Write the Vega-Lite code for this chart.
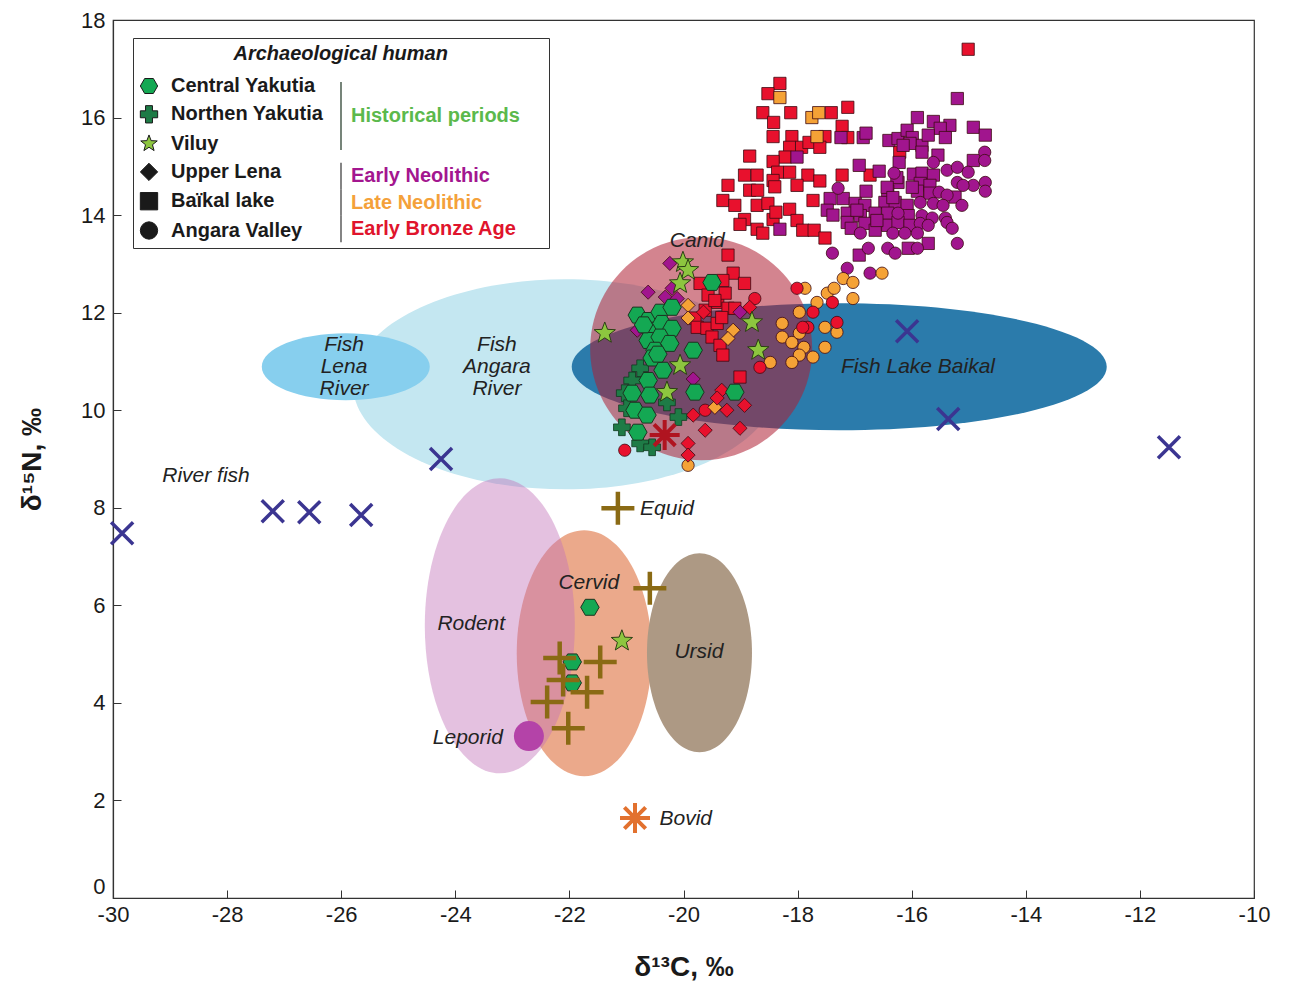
{
  "$schema": "https://vega.github.io/schema/vega-lite/v6.json",
  "width": 1141,
  "height": 878,
  "autosize": {"type": "none"},
  "padding": {"left": 113, "top": 20, "right": 38, "bottom": 100},
  "background": "white",
  "config": {
    "view": {"stroke": "#333", "strokeWidth": 1.2},
    "axis": {"grid": false, "domainColor": "#333", "domainWidth": 1.2, "tickColor": "#333", "tickSize": -8, "tickWidth": 1, "labelFont": "Liberation Sans", "labelFontSize": 22, "labelColor": "#1a1a1a", "titleFont": "Liberation Sans", "titleFontSize": 28, "titleFontWeight": "bold", "titleColor": "#1a1a1a", "labelFlush": false, "labelOverlap": false},
    "legend": {"labelFont": "Liberation Sans", "labelFontSize": 20, "labelFontWeight": "bold", "labelColor": "#1a1a1a", "titleFont": "Liberation Sans", "labelLimit": 400, "titleLimit": 700}
  },
  "datasets": {
    "ellipses": [
      {"name": "Fish Angara River", "C": -22.08, "N": 10.53},
      {"name": "Fish Lena River", "C": -25.92, "N": 10.89},
      {"name": "Fish Lake Baikal", "C": -17.27, "N": 10.89},
      {"name": "Canid", "C": -19.69, "N": 11.26},
      {"name": "Cervid", "C": -21.74, "N": 5.02},
      {"name": "Rodent", "C": -23.22, "N": 5.58},
      {"name": "Ursid", "C": -19.72, "N": 5.03}
    ],
    "labels": [
      {"label": "River fish", "C": -28.37, "N": 8.65},
      {"label": "Fish\nLena\nRiver", "C": -25.95, "N": 11.33},
      {"label": "Fish\nAngara\nRiver", "C": -23.27, "N": 11.33},
      {"label": "Canid", "C": -19.76, "N": 13.46},
      {"label": "Fish Lake Baikal", "C": -15.89, "N": 10.88},
      {"label": "Equid", "C": -20.29, "N": 7.97},
      {"label": "Cervid", "C": -21.66, "N": 6.45},
      {"label": "Rodent", "C": -23.72, "N": 5.61},
      {"label": "Ursid", "C": -19.73, "N": 5.04},
      {"label": "Leporid", "C": -23.78, "N": 3.28},
      {"label": "Bovid", "C": -19.96, "N": 1.62}
    ],
    "fauna": [
      {"taxon": "River fish", "C": -29.84, "N": 7.48},
      {"taxon": "River fish", "C": -27.2, "N": 7.93},
      {"taxon": "River fish", "C": -26.56, "N": 7.91},
      {"taxon": "River fish", "C": -25.65, "N": 7.85},
      {"taxon": "River fish", "C": -24.25, "N": 9.0},
      {"taxon": "River fish", "C": -16.08, "N": 11.62},
      {"taxon": "River fish", "C": -15.36, "N": 9.82},
      {"taxon": "River fish", "C": -11.49, "N": 9.24},
      {"taxon": "Equid", "C": -21.15, "N": 7.99},
      {"taxon": "Equid", "C": -20.59, "N": 6.35},
      {"taxon": "Equid", "C": -22.17, "N": 4.92},
      {"taxon": "Equid", "C": -21.46, "N": 4.84},
      {"taxon": "Equid", "C": -22.11, "N": 4.47},
      {"taxon": "Equid", "C": -21.69, "N": 4.22},
      {"taxon": "Equid", "C": -22.39, "N": 4.02},
      {"taxon": "Equid", "C": -22.02, "N": 3.48},
      {"taxon": "Canid", "C": -20.33, "N": 9.49},
      {"taxon": "Bovid", "C": -20.85, "N": 1.64},
      {"taxon": "Leporid", "C": -22.71, "N": 3.32}
    ],
    "human": [
      {"region": "Baïkal lake", "period": "Early Bronze Age", "C": -18.31, "N": 16.7},
      {"region": "Baïkal lake", "period": "Early Bronze Age", "C": -18.52, "N": 16.49},
      {"region": "Baïkal lake", "period": "Early Bronze Age", "C": -18.61, "N": 16.1},
      {"region": "Baïkal lake", "period": "Early Bronze Age", "C": -18.12, "N": 16.1},
      {"region": "Baïkal lake", "period": "Early Bronze Age", "C": -18.42, "N": 15.9},
      {"region": "Baïkal lake", "period": "Early Bronze Age", "C": -17.41, "N": 16.1},
      {"region": "Baïkal lake", "period": "Early Bronze Age", "C": -17.12, "N": 16.21},
      {"region": "Baïkal lake", "period": "Early Bronze Age", "C": -17.22, "N": 15.82},
      {"region": "Baïkal lake", "period": "Early Bronze Age", "C": -17.12, "N": 15.59},
      {"region": "Baïkal lake", "period": "Early Bronze Age", "C": -18.43, "N": 15.61},
      {"region": "Baïkal lake", "period": "Early Bronze Age", "C": -18.1, "N": 15.61},
      {"region": "Baïkal lake", "period": "Early Bronze Age", "C": -17.52, "N": 15.61},
      {"region": "Baïkal lake", "period": "Early Bronze Age", "C": -18.14, "N": 15.39},
      {"region": "Baïkal lake", "period": "Early Bronze Age", "C": -17.93, "N": 15.39},
      {"region": "Baïkal lake", "period": "Early Bronze Age", "C": -17.8, "N": 15.49},
      {"region": "Baïkal lake", "period": "Early Bronze Age", "C": -17.61, "N": 15.39},
      {"region": "Baïkal lake", "period": "Early Bronze Age", "C": -18.22, "N": 15.19},
      {"region": "Baïkal lake", "period": "Early Bronze Age", "C": -18.84, "N": 15.21},
      {"region": "Baïkal lake", "period": "Early Bronze Age", "C": -18.43, "N": 15.1},
      {"region": "Baïkal lake", "period": "Early Bronze Age", "C": -18.93, "N": 14.82},
      {"region": "Baïkal lake", "period": "Early Bronze Age", "C": -18.71, "N": 14.82},
      {"region": "Baïkal lake", "period": "Early Bronze Age", "C": -18.35, "N": 14.88},
      {"region": "Baïkal lake", "period": "Early Bronze Age", "C": -18.14, "N": 14.88},
      {"region": "Baïkal lake", "period": "Early Bronze Age", "C": -17.82, "N": 14.82},
      {"region": "Baïkal lake", "period": "Early Bronze Age", "C": -17.61, "N": 14.7},
      {"region": "Baïkal lake", "period": "Early Bronze Age", "C": -17.22, "N": 14.82},
      {"region": "Baïkal lake", "period": "Early Bronze Age", "C": -18.43, "N": 14.71},
      {"region": "Baïkal lake", "period": "Early Bronze Age", "C": -18.4, "N": 14.58},
      {"region": "Baïkal lake", "period": "Early Bronze Age", "C": -19.22, "N": 14.61},
      {"region": "Baïkal lake", "period": "Early Bronze Age", "C": -18.84, "N": 14.51},
      {"region": "Baïkal lake", "period": "Early Bronze Age", "C": -18.7, "N": 14.51},
      {"region": "Baïkal lake", "period": "Early Bronze Age", "C": -18.01, "N": 14.61},
      {"region": "Baïkal lake", "period": "Early Bronze Age", "C": -17.73, "N": 14.3},
      {"region": "Baïkal lake", "period": "Early Bronze Age", "C": -19.31, "N": 14.3},
      {"region": "Baïkal lake", "period": "Early Bronze Age", "C": -19.1, "N": 14.2},
      {"region": "Baïkal lake", "period": "Early Bronze Age", "C": -18.71, "N": 14.2},
      {"region": "Baïkal lake", "period": "Early Bronze Age", "C": -18.52, "N": 14.24},
      {"region": "Baïkal lake", "period": "Early Bronze Age", "C": -18.14, "N": 14.12},
      {"region": "Baïkal lake", "period": "Early Bronze Age", "C": -18.93, "N": 13.91},
      {"region": "Baïkal lake", "period": "Early Bronze Age", "C": -19.01, "N": 13.81},
      {"region": "Baïkal lake", "period": "Early Bronze Age", "C": -18.71, "N": 13.71},
      {"region": "Baïkal lake", "period": "Early Bronze Age", "C": -18.61, "N": 13.63},
      {"region": "Baïkal lake", "period": "Early Bronze Age", "C": -18.43, "N": 13.91},
      {"region": "Baïkal lake", "period": "Early Bronze Age", "C": -18.01, "N": 13.89},
      {"region": "Baïkal lake", "period": "Early Bronze Age", "C": -17.91, "N": 13.69},
      {"region": "Baïkal lake", "period": "Early Bronze Age", "C": -17.71, "N": 13.69},
      {"region": "Baïkal lake", "period": "Early Bronze Age", "C": -17.52, "N": 13.53},
      {"region": "Baïkal lake", "period": "Early Bronze Age", "C": -18.38, "N": 14.06},
      {"region": "Baïkal lake", "period": "Early Bronze Age", "C": -16.21, "N": 15.29},
      {"region": "Baïkal lake", "period": "Early Bronze Age", "C": -16.73, "N": 14.82},
      {"region": "Baïkal lake", "period": "Early Bronze Age", "C": -15.01, "N": 17.4},
      {"region": "Baïkal lake", "period": "Early Bronze Age", "C": -19.22, "N": 13.18},
      {"region": "Baïkal lake", "period": "Early Bronze Age", "C": -19.13, "N": 12.81},
      {"region": "Baïkal lake", "period": "Early Bronze Age", "C": -18.93, "N": 12.6},
      {"region": "Baïkal lake", "period": "Early Bronze Age", "C": -19.71, "N": 12.6},
      {"region": "Baïkal lake", "period": "Early Bronze Age", "C": -19.31, "N": 12.66},
      {"region": "Baïkal lake", "period": "Early Bronze Age", "C": -19.57, "N": 12.36},
      {"region": "Baïkal lake", "period": "Early Bronze Age", "C": -19.4, "N": 12.21},
      {"region": "Baïkal lake", "period": "Early Bronze Age", "C": -19.22, "N": 12.09},
      {"region": "Baïkal lake", "period": "Early Bronze Age", "C": -19.62, "N": 12.05},
      {"region": "Baïkal lake", "period": "Early Bronze Age", "C": -19.8, "N": 11.89},
      {"region": "Baïkal lake", "period": "Early Bronze Age", "C": -19.76, "N": 11.7},
      {"region": "Baïkal lake", "period": "Early Bronze Age", "C": -19.59, "N": 11.68},
      {"region": "Baïkal lake", "period": "Early Bronze Age", "C": -19.41, "N": 11.78},
      {"region": "Baïkal lake", "period": "Early Bronze Age", "C": -19.5, "N": 11.5},
      {"region": "Baïkal lake", "period": "Early Bronze Age", "C": -19.36, "N": 11.33},
      {"region": "Baïkal lake", "period": "Early Bronze Age", "C": -19.31, "N": 11.13},
      {"region": "Baïkal lake", "period": "Early Bronze Age", "C": -19.01, "N": 10.68},
      {"region": "Baïkal lake", "period": "Early Bronze Age", "C": -19.27, "N": 12.4},
      {"region": "Baïkal lake", "period": "Early Bronze Age", "C": -19.1, "N": 12.09},
      {"region": "Baïkal lake", "period": "Early Bronze Age", "C": -19.45, "N": 12.25},
      {"region": "Baïkal lake", "period": "Early Bronze Age", "C": -19.33, "N": 11.9},
      {"region": "Baïkal lake", "period": "Late Neolithic", "C": -18.31, "N": 16.41},
      {"region": "Baïkal lake", "period": "Late Neolithic", "C": -17.75, "N": 16.0},
      {"region": "Baïkal lake", "period": "Late Neolithic", "C": -17.63, "N": 16.1},
      {"region": "Baïkal lake", "period": "Late Neolithic", "C": -17.66, "N": 15.61},
      {"region": "Baïkal lake", "period": "Early Neolithic", "C": -18.01, "N": 15.19},
      {"region": "Baïkal lake", "period": "Early Neolithic", "C": -17.24, "N": 15.59},
      {"region": "Baïkal lake", "period": "Early Neolithic", "C": -16.85, "N": 15.59},
      {"region": "Baïkal lake", "period": "Early Neolithic", "C": -16.92, "N": 15.02},
      {"region": "Baïkal lake", "period": "Early Neolithic", "C": -18.31, "N": 13.71},
      {"region": "Baïkal lake", "period": "Early Neolithic", "C": -15.2, "N": 16.39},
      {"region": "Baïkal lake", "period": "Early Neolithic", "C": -15.9, "N": 16.0},
      {"region": "Baïkal lake", "period": "Early Neolithic", "C": -15.62, "N": 15.92},
      {"region": "Baïkal lake", "period": "Early Neolithic", "C": -15.33, "N": 15.84},
      {"region": "Baïkal lake", "period": "Early Neolithic", "C": -15.5, "N": 15.78},
      {"region": "Baïkal lake", "period": "Early Neolithic", "C": -14.92, "N": 15.8},
      {"region": "Baïkal lake", "period": "Early Neolithic", "C": -14.71, "N": 15.64},
      {"region": "Baïkal lake", "period": "Early Neolithic", "C": -16.8, "N": 15.68},
      {"region": "Baïkal lake", "period": "Early Neolithic", "C": -16.4, "N": 15.53},
      {"region": "Baïkal lake", "period": "Early Neolithic", "C": -16.24, "N": 15.57},
      {"region": "Baïkal lake", "period": "Early Neolithic", "C": -16.08, "N": 15.74},
      {"region": "Baïkal lake", "period": "Early Neolithic", "C": -15.99, "N": 15.59},
      {"region": "Baïkal lake", "period": "Early Neolithic", "C": -15.82, "N": 15.43},
      {"region": "Baïkal lake", "period": "Early Neolithic", "C": -15.71, "N": 15.64},
      {"region": "Baïkal lake", "period": "Early Neolithic", "C": -15.41, "N": 15.59},
      {"region": "Baïkal lake", "period": "Early Neolithic", "C": -16.03, "N": 15.47},
      {"region": "Baïkal lake", "period": "Early Neolithic", "C": -15.82, "N": 15.29},
      {"region": "Baïkal lake", "period": "Early Neolithic", "C": -15.54, "N": 15.23},
      {"region": "Baïkal lake", "period": "Early Neolithic", "C": -14.92, "N": 15.12},
      {"region": "Baïkal lake", "period": "Early Neolithic", "C": -16.22, "N": 15.08},
      {"region": "Baïkal lake", "period": "Early Neolithic", "C": -16.57, "N": 14.9},
      {"region": "Baïkal lake", "period": "Early Neolithic", "C": -15.97, "N": 14.84},
      {"region": "Baïkal lake", "period": "Early Neolithic", "C": -15.82, "N": 14.86},
      {"region": "Baïkal lake", "period": "Early Neolithic", "C": -15.62, "N": 14.82},
      {"region": "Baïkal lake", "period": "Early Neolithic", "C": -16.24, "N": 14.67},
      {"region": "Baïkal lake", "period": "Early Neolithic", "C": -15.85, "N": 14.65},
      {"region": "Baïkal lake", "period": "Early Neolithic", "C": -15.68, "N": 14.61},
      {"region": "Baïkal lake", "period": "Early Neolithic", "C": -16.8, "N": 14.49},
      {"region": "Baïkal lake", "period": "Early Neolithic", "C": -16.42, "N": 14.49},
      {"region": "Baïkal lake", "period": "Early Neolithic", "C": -15.9, "N": 14.49},
      {"region": "Baïkal lake", "period": "Early Neolithic", "C": -15.24, "N": 14.37},
      {"region": "Baïkal lake", "period": "Early Neolithic", "C": -17.2, "N": 14.34},
      {"region": "Baïkal lake", "period": "Early Neolithic", "C": -16.99, "N": 14.24},
      {"region": "Baïkal lake", "period": "Early Neolithic", "C": -16.82, "N": 14.2},
      {"region": "Baïkal lake", "period": "Early Neolithic", "C": -16.47, "N": 14.26},
      {"region": "Baïkal lake", "period": "Early Neolithic", "C": -16.29, "N": 14.26},
      {"region": "Baïkal lake", "period": "Early Neolithic", "C": -16.08, "N": 14.2},
      {"region": "Baïkal lake", "period": "Early Neolithic", "C": -17.13, "N": 14.04},
      {"region": "Baïkal lake", "period": "Early Neolithic", "C": -16.9, "N": 13.99},
      {"region": "Baïkal lake", "period": "Early Neolithic", "C": -16.64, "N": 14.04},
      {"region": "Baïkal lake", "period": "Early Neolithic", "C": -16.42, "N": 14.04},
      {"region": "Baïkal lake", "period": "Early Neolithic", "C": -16.06, "N": 13.99},
      {"region": "Baïkal lake", "period": "Early Neolithic", "C": -17.13, "N": 13.85},
      {"region": "Baïkal lake", "period": "Early Neolithic", "C": -16.82, "N": 13.83},
      {"region": "Baïkal lake", "period": "Early Neolithic", "C": -16.64, "N": 13.69},
      {"region": "Baïkal lake", "period": "Early Neolithic", "C": -16.42, "N": 13.79},
      {"region": "Baïkal lake", "period": "Early Neolithic", "C": -16.24, "N": 13.85},
      {"region": "Baïkal lake", "period": "Early Neolithic", "C": -16.03, "N": 13.79},
      {"region": "Baïkal lake", "period": "Early Neolithic", "C": -15.71, "N": 13.42},
      {"region": "Baïkal lake", "period": "Early Neolithic", "C": -16.06, "N": 13.32},
      {"region": "Baïkal lake", "period": "Early Neolithic", "C": -16.92, "N": 13.18},
      {"region": "Baïkal lake", "period": "Early Neolithic", "C": -17.43, "N": 14.34},
      {"region": "Baïkal lake", "period": "Early Neolithic", "C": -17.48, "N": 14.1},
      {"region": "Baïkal lake", "period": "Early Neolithic", "C": -17.38, "N": 14.0},
      {"region": "Baïkal lake", "period": "Early Neolithic", "C": -17.06, "N": 13.73},
      {"region": "Baïkal lake", "period": "Early Neolithic", "C": -16.15, "N": 15.43},
      {"region": "Baïkal lake", "period": "Early Neolithic", "C": -16.26, "N": 14.77},
      {"region": "Baïkal lake", "period": "Early Neolithic", "C": -16.43, "N": 14.57},
      {"region": "Baïkal lake", "period": "Early Neolithic", "C": -16.33, "N": 14.36},
      {"region": "Baïkal lake", "period": "Early Neolithic", "C": -15.99, "N": 14.57},
      {"region": "Baïkal lake", "period": "Early Neolithic", "C": -15.68, "N": 14.45},
      {"region": "Baïkal lake", "period": "Early Neolithic", "C": -16.96, "N": 14.1},
      {"region": "Baïkal lake", "period": "Early Neolithic", "C": -16.61, "N": 13.89},
      {"region": "Angara Valley", "period": "Early Neolithic", "C": -14.72, "N": 15.29},
      {"region": "Angara Valley", "period": "Early Neolithic", "C": -14.72, "N": 15.12},
      {"region": "Angara Valley", "period": "Early Neolithic", "C": -15.62, "N": 15.08},
      {"region": "Angara Valley", "period": "Early Neolithic", "C": -15.38, "N": 14.92},
      {"region": "Angara Valley", "period": "Early Neolithic", "C": -15.2, "N": 14.98},
      {"region": "Angara Valley", "period": "Early Neolithic", "C": -15.01, "N": 14.88},
      {"region": "Angara Valley", "period": "Early Neolithic", "C": -15.2, "N": 14.67},
      {"region": "Angara Valley", "period": "Early Neolithic", "C": -14.92, "N": 14.61},
      {"region": "Angara Valley", "period": "Early Neolithic", "C": -14.71, "N": 14.67},
      {"region": "Angara Valley", "period": "Early Neolithic", "C": -14.71, "N": 14.49},
      {"region": "Angara Valley", "period": "Early Neolithic", "C": -15.1, "N": 14.61},
      {"region": "Angara Valley", "period": "Early Neolithic", "C": -15.52, "N": 14.47},
      {"region": "Angara Valley", "period": "Early Neolithic", "C": -15.38, "N": 14.41},
      {"region": "Angara Valley", "period": "Early Neolithic", "C": -15.85, "N": 14.26},
      {"region": "Angara Valley", "period": "Early Neolithic", "C": -15.62, "N": 14.24},
      {"region": "Angara Valley", "period": "Early Neolithic", "C": -15.45, "N": 14.2},
      {"region": "Angara Valley", "period": "Early Neolithic", "C": -15.12, "N": 14.2},
      {"region": "Angara Valley", "period": "Early Neolithic", "C": -16.24, "N": 14.04},
      {"region": "Angara Valley", "period": "Early Neolithic", "C": -15.82, "N": 13.99},
      {"region": "Angara Valley", "period": "Early Neolithic", "C": -15.64, "N": 13.94},
      {"region": "Angara Valley", "period": "Early Neolithic", "C": -15.41, "N": 13.94},
      {"region": "Angara Valley", "period": "Early Neolithic", "C": -15.85, "N": 13.83},
      {"region": "Angara Valley", "period": "Early Neolithic", "C": -15.71, "N": 13.79},
      {"region": "Angara Valley", "period": "Early Neolithic", "C": -15.38, "N": 13.85},
      {"region": "Angara Valley", "period": "Early Neolithic", "C": -15.29, "N": 13.73},
      {"region": "Angara Valley", "period": "Early Neolithic", "C": -16.9, "N": 13.63},
      {"region": "Angara Valley", "period": "Early Neolithic", "C": -16.33, "N": 13.63},
      {"region": "Angara Valley", "period": "Early Neolithic", "C": -16.12, "N": 13.63},
      {"region": "Angara Valley", "period": "Early Neolithic", "C": -15.9, "N": 13.63},
      {"region": "Angara Valley", "period": "Early Neolithic", "C": -15.2, "N": 13.42},
      {"region": "Angara Valley", "period": "Early Neolithic", "C": -15.9, "N": 13.32},
      {"region": "Angara Valley", "period": "Early Neolithic", "C": -16.42, "N": 13.32},
      {"region": "Angara Valley", "period": "Early Neolithic", "C": -16.29, "N": 13.22},
      {"region": "Angara Valley", "period": "Early Neolithic", "C": -16.76, "N": 13.32},
      {"region": "Angara Valley", "period": "Early Neolithic", "C": -17.13, "N": 12.91},
      {"region": "Angara Valley", "period": "Early Neolithic", "C": -16.73, "N": 12.81},
      {"region": "Angara Valley", "period": "Early Neolithic", "C": -17.39, "N": 13.22},
      {"region": "Angara Valley", "period": "Early Neolithic", "C": -17.29, "N": 14.55},
      {"region": "Angara Valley", "period": "Early Neolithic", "C": -16.31, "N": 14.86},
      {"region": "Angara Valley", "period": "Late Neolithic", "C": -16.52, "N": 12.81},
      {"region": "Angara Valley", "period": "Late Neolithic", "C": -17.2, "N": 12.7},
      {"region": "Angara Valley", "period": "Late Neolithic", "C": -17.03, "N": 12.62},
      {"region": "Angara Valley", "period": "Late Neolithic", "C": -17.87, "N": 12.5},
      {"region": "Angara Valley", "period": "Late Neolithic", "C": -17.66, "N": 12.21},
      {"region": "Angara Valley", "period": "Late Neolithic", "C": -17.48, "N": 12.4},
      {"region": "Angara Valley", "period": "Late Neolithic", "C": -17.36, "N": 12.5},
      {"region": "Angara Valley", "period": "Late Neolithic", "C": -17.03, "N": 12.29},
      {"region": "Angara Valley", "period": "Late Neolithic", "C": -17.97, "N": 12.01},
      {"region": "Angara Valley", "period": "Late Neolithic", "C": -18.27, "N": 11.78},
      {"region": "Angara Valley", "period": "Late Neolithic", "C": -18.27, "N": 11.5},
      {"region": "Angara Valley", "period": "Late Neolithic", "C": -18.1, "N": 11.39},
      {"region": "Angara Valley", "period": "Late Neolithic", "C": -17.97, "N": 11.58},
      {"region": "Angara Valley", "period": "Late Neolithic", "C": -17.89, "N": 11.29},
      {"region": "Angara Valley", "period": "Late Neolithic", "C": -17.97, "N": 11.13},
      {"region": "Angara Valley", "period": "Late Neolithic", "C": -18.1, "N": 10.98},
      {"region": "Angara Valley", "period": "Late Neolithic", "C": -17.73, "N": 11.09},
      {"region": "Angara Valley", "period": "Late Neolithic", "C": -17.52, "N": 11.29},
      {"region": "Angara Valley", "period": "Late Neolithic", "C": -17.52, "N": 11.7},
      {"region": "Angara Valley", "period": "Late Neolithic", "C": -17.31, "N": 11.6},
      {"region": "Angara Valley", "period": "Late Neolithic", "C": -18.48, "N": 10.98},
      {"region": "Angara Valley", "period": "Late Neolithic", "C": -19.92, "N": 8.87},
      {"region": "Angara Valley", "period": "Early Bronze Age", "C": -18.75, "N": 12.29},
      {"region": "Angara Valley", "period": "Early Bronze Age", "C": -18.01, "N": 12.5},
      {"region": "Angara Valley", "period": "Early Bronze Age", "C": -17.73, "N": 12.01},
      {"region": "Angara Valley", "period": "Early Bronze Age", "C": -17.39, "N": 12.21},
      {"region": "Angara Valley", "period": "Early Bronze Age", "C": -17.31, "N": 11.8},
      {"region": "Angara Valley", "period": "Early Bronze Age", "C": -17.82, "N": 11.7},
      {"region": "Angara Valley", "period": "Early Bronze Age", "C": -17.91, "N": 11.7},
      {"region": "Angara Valley", "period": "Early Bronze Age", "C": -18.66, "N": 10.88},
      {"region": "Angara Valley", "period": "Early Bronze Age", "C": -21.03, "N": 9.18},
      {"region": "Angara Valley", "period": "Early Bronze Age", "C": -19.62, "N": 10.0},
      {"region": "Upper Lena", "period": "Early Neolithic", "C": -20.24, "N": 13.01},
      {"region": "Upper Lena", "period": "Early Neolithic", "C": -20.62, "N": 12.42},
      {"region": "Upper Lena", "period": "Early Neolithic", "C": -20.32, "N": 12.32},
      {"region": "Upper Lena", "period": "Early Neolithic", "C": -20.11, "N": 12.29},
      {"region": "Upper Lena", "period": "Early Neolithic", "C": -20.81, "N": 11.64},
      {"region": "Upper Lena", "period": "Early Neolithic", "C": -20.2, "N": 12.5},
      {"region": "Upper Lena", "period": "Early Neolithic", "C": -19.83, "N": 10.64},
      {"region": "Upper Lena", "period": "Early Neolithic", "C": -19.01, "N": 12.01},
      {"region": "Upper Lena", "period": "Late Neolithic", "C": -19.92, "N": 12.15},
      {"region": "Upper Lena", "period": "Late Neolithic", "C": -19.92, "N": 11.89},
      {"region": "Upper Lena", "period": "Late Neolithic", "C": -19.13, "N": 11.64},
      {"region": "Upper Lena", "period": "Late Neolithic", "C": -19.22, "N": 11.47},
      {"region": "Upper Lena", "period": "Late Neolithic", "C": -19.45, "N": 10.06},
      {"region": "Upper Lena", "period": "Early Bronze Age", "C": -18.84, "N": 12.11},
      {"region": "Upper Lena", "period": "Early Bronze Age", "C": -18.93, "N": 10.1},
      {"region": "Upper Lena", "period": "Early Bronze Age", "C": -19.24, "N": 10.0},
      {"region": "Upper Lena", "period": "Early Bronze Age", "C": -19.01, "N": 9.63},
      {"region": "Upper Lena", "period": "Early Bronze Age", "C": -19.33, "N": 10.41},
      {"region": "Upper Lena", "period": "Early Bronze Age", "C": -19.41, "N": 10.25},
      {"region": "Upper Lena", "period": "Early Bronze Age", "C": -19.83, "N": 9.9},
      {"region": "Upper Lena", "period": "Early Bronze Age", "C": -19.62, "N": 9.59},
      {"region": "Upper Lena", "period": "Early Bronze Age", "C": -19.92, "N": 9.32},
      {"region": "Upper Lena", "period": "Early Bronze Age", "C": -19.92, "N": 9.08},
      {"region": "Upper Lena", "period": "Early Bronze Age", "C": -19.65, "N": 12.01},
      {"region": "Northen Yakutia", "period": "Historical periods", "C": -20.76, "N": 10.86},
      {"region": "Northen Yakutia", "period": "Historical periods", "C": -20.9, "N": 10.61},
      {"region": "Northen Yakutia", "period": "Historical periods", "C": -21.03, "N": 10.35},
      {"region": "Northen Yakutia", "period": "Historical periods", "C": -20.99, "N": 10.04},
      {"region": "Northen Yakutia", "period": "Historical periods", "C": -21.08, "N": 9.65},
      {"region": "Northen Yakutia", "period": "Historical periods", "C": -20.76, "N": 9.32},
      {"region": "Northen Yakutia", "period": "Historical periods", "C": -20.55, "N": 9.24},
      {"region": "Northen Yakutia", "period": "Historical periods", "C": -20.09, "N": 9.86},
      {"region": "Northen Yakutia", "period": "Historical periods", "C": -20.29, "N": 10.16},
      {"region": "Central Yakutia", "period": "Historical periods", "C": -19.5, "N": 12.62},
      {"region": "Central Yakutia", "period": "Historical periods", "C": -20.81, "N": 11.95},
      {"region": "Central Yakutia", "period": "Historical periods", "C": -20.62, "N": 11.84},
      {"region": "Central Yakutia", "period": "Historical periods", "C": -20.41, "N": 12.01},
      {"region": "Central Yakutia", "period": "Historical periods", "C": -20.2, "N": 12.11},
      {"region": "Central Yakutia", "period": "Historical periods", "C": -20.59, "N": 11.64},
      {"region": "Central Yakutia", "period": "Historical periods", "C": -20.38, "N": 11.78},
      {"region": "Central Yakutia", "period": "Historical periods", "C": -20.2, "N": 11.68},
      {"region": "Central Yakutia", "period": "Historical periods", "C": -20.62, "N": 11.43},
      {"region": "Central Yakutia", "period": "Historical periods", "C": -20.41, "N": 11.5},
      {"region": "Central Yakutia", "period": "Historical periods", "C": -20.24, "N": 11.37},
      {"region": "Central Yakutia", "period": "Historical periods", "C": -20.5, "N": 11.23},
      {"region": "Central Yakutia", "period": "Historical periods", "C": -19.83, "N": 11.23},
      {"region": "Central Yakutia", "period": "Historical periods", "C": -20.55, "N": 11.07},
      {"region": "Central Yakutia", "period": "Historical periods", "C": -20.36, "N": 10.82},
      {"region": "Central Yakutia", "period": "Historical periods", "C": -20.62, "N": 10.61},
      {"region": "Central Yakutia", "period": "Historical periods", "C": -20.9, "N": 10.35},
      {"region": "Central Yakutia", "period": "Historical periods", "C": -20.59, "N": 10.31},
      {"region": "Central Yakutia", "period": "Historical periods", "C": -20.85, "N": 10.0},
      {"region": "Central Yakutia", "period": "Historical periods", "C": -20.64, "N": 9.9},
      {"region": "Central Yakutia", "period": "Historical periods", "C": -20.8, "N": 9.55},
      {"region": "Central Yakutia", "period": "Historical periods", "C": -19.8, "N": 10.37},
      {"region": "Central Yakutia", "period": "Historical periods", "C": -19.1, "N": 10.37},
      {"region": "Central Yakutia", "period": "Historical periods", "C": -20.45, "N": 11.15},
      {"region": "Central Yakutia", "period": "Historical periods", "C": -20.7, "N": 11.75},
      {"region": "Central Yakutia", "period": "Historical periods", "C": -21.64, "N": 5.96},
      {"region": "Central Yakutia", "period": "Historical periods", "C": -21.95, "N": 4.84},
      {"region": "Central Yakutia", "period": "Historical periods", "C": -21.95, "N": 4.41},
      {"region": "Viluy", "period": "Historical periods", "C": -20.01, "N": 13.03},
      {"region": "Viluy", "period": "Historical periods", "C": -19.92, "N": 12.87},
      {"region": "Viluy", "period": "Historical periods", "C": -20.06, "N": 12.6},
      {"region": "Viluy", "period": "Historical periods", "C": -21.38, "N": 11.58},
      {"region": "Viluy", "period": "Historical periods", "C": -18.8, "N": 11.8},
      {"region": "Viluy", "period": "Historical periods", "C": -18.69, "N": 11.23},
      {"region": "Viluy", "period": "Historical periods", "C": -20.06, "N": 10.92},
      {"region": "Viluy", "period": "Historical periods", "C": -20.29, "N": 10.37},
      {"region": "Viluy", "period": "Historical periods", "C": -21.08, "N": 5.27}
    ]
  },
  "encoding": {
    "x": {"field": "C", "type": "quantitative", "scale": {"domain": [-30, -10], "nice": false, "zero": false},
      "axis": {"values": [-30, -28, -26, -24, -22, -20, -18, -16, -14, -12, -10], "labelPadding": 14, "labelExpr": "'' + datum.value", "title": "δ¹³C, ‰", "titlePadding": 28}},
    "y": {"field": "N", "type": "quantitative", "scale": {"domain": [0, 18], "nice": false, "zero": false},
      "axis": {"values": [0, 2, 4, 6, 8, 10, 12, 14, 16, 18], "labelPadding": 16, "labelExpr": "'' + datum.value", "labelBaseline": {"expr": "datum.value === 0 ? 'bottom' : 'middle'"}, "title": "δ¹⁵N, ‰", "titlePadding": 34}}
  },
  "layer": [
    {"data": {"name": "ellipses"}, "transform": [{"filter": "datum.name === 'Fish Angara River'"}],
      "mark": {"type": "point", "filled": true, "size": 4, "opacity": 1, "strokeWidth": 0, "fill": "#c4e7f1",
        "shape": "M-212,0C-212,-58 -117.1,-105 0,-105C117.1,-105 212,-58 212,0C212,58 117.1,105 0,105C-117.1,105 -212,58 -212,0Z"}},
    {"data": {"name": "ellipses"}, "transform": [{"filter": "datum.name === 'Fish Lena River'"}],
      "mark": {"type": "point", "filled": true, "size": 4, "opacity": 1, "strokeWidth": 0, "fill": "#87cfee",
        "shape": "M-84,0C-84,-18.5 -46.4,-33.5 0,-33.5C46.4,-33.5 84,-18.5 84,0C84,18.5 46.4,33.5 0,33.5C-46.4,33.5 -84,18.5 -84,0Z"}},
    {"data": {"name": "ellipses"}, "transform": [{"filter": "datum.name === 'Fish Lake Baikal'"}],
      "mark": {"type": "point", "filled": true, "size": 4, "opacity": 1, "strokeWidth": 0, "fill": "#2b7bab",
        "shape": "M-267.5,0C-267.5,-35.1 -147.7,-63.5 0,-63.5C147.7,-63.5 267.5,-35.1 267.5,0C267.5,35.1 147.7,63.5 0,63.5C-147.7,63.5 -267.5,35.1 -267.5,0Z"}},
    {"data": {"name": "ellipses"}, "transform": [{"filter": "datum.name === 'Canid'"}],
      "mark": {"type": "point", "filled": true, "size": 4, "opacity": 0.55, "strokeWidth": 0, "fill": "#af1f33",
        "shape": "M-111,0C-111,-61.6 -61.3,-111.5 0,-111.5C61.3,-111.5 111,-61.6 111,0C111,61.6 61.3,111.5 0,111.5C-61.3,111.5 -111,61.6 -111,0Z"}},
    {"data": {"name": "ellipses"}, "transform": [{"filter": "datum.name === 'Cervid'"}],
      "mark": {"type": "point", "filled": true, "size": 4, "opacity": 1, "strokeWidth": 0, "fill": "#eba98b",
        "shape": "M-67.5,0C-67.5,-67.9 -37.3,-123 0,-123C37.3,-123 67.5,-67.9 67.5,0C67.5,67.9 37.3,123 0,123C-37.3,123 -67.5,67.9 -67.5,0Z"}},
    {"data": {"name": "ellipses"}, "transform": [{"filter": "datum.name === 'Rodent'"}],
      "mark": {"type": "point", "filled": true, "size": 4, "opacity": 0.44, "strokeWidth": 0, "fill": "#c272b8",
        "shape": "M-75,0C-75,-81.5 -41.4,-147.5 0,-147.5C41.4,-147.5 75,-81.5 75,0C75,81.5 41.4,147.5 0,147.5C-41.4,147.5 -75,81.5 -75,0Z"}},
    {"data": {"name": "ellipses"}, "transform": [{"filter": "datum.name === 'Ursid'"}],
      "mark": {"type": "point", "filled": true, "size": 4, "opacity": 1, "strokeWidth": 0, "fill": "#ad9984",
        "shape": "M-52.5,0C-52.5,-55 -29,-99.5 0,-99.5C29,-99.5 52.5,-55 52.5,0C52.5,55 29,99.5 0,99.5C-29,99.5 -52.5,55 -52.5,0Z"}},
    {"data": {"name": "human"}, "transform": [{"filter": "datum.region === 'Baïkal lake'"}],
      "mark": {"type": "point", "filled": true, "size": 150, "opacity": 1, "stroke": "#3d0a12", "strokeWidth": 0.8},
      "encoding": {
        "shape": {"field": "region", "type": "nominal",
          "scale": {"domain": ["Central Yakutia", "Northen Yakutia", "Viluy", "Upper Lena", "Baïkal lake", "Angara Valley"],
            "range": ["M-1,0L-0.5,-0.866L0.5,-0.866L1,0L0.5,0.866L-0.5,0.866Z", "cross", "M0,-1L0.247,-0.34L0.951,-0.309L0.399,0.13L0.588,0.809L0,0.42L-0.588,0.809L-0.399,0.13L-0.951,-0.309L-0.247,-0.34Z", "diamond", "square", "circle"]},
          "legend": {
            "title": "\u200d\u00a0\u00a0\u00a0\u00a0\u00a0\u00a0\u00a0\u00a0\u00a0\u00a0\u00a0\u00a0\u00a0\u00a0\u00a0\u00a0\u00a0Archaeological human\u00a0\u00a0\u00a0\u00a0\u00a0\u00a0\u00a0\u00a0\u00a0\u00a0\u00a0\u00a0\u00a0\u00a0\u00a0\u00a0\u00a0\u200d",
            "orient": "none", "legendX": 20, "legendY": 18,
            "titleFontSize": 20, "titleFontStyle": "italic", "titleFontWeight": "bold", "titleColor": "#1a1a1a", "titlePadding": 12,
            "strokeColor": "#333", "padding": 6,
            "symbolSize": 300, "labelOffset": 12, "rowPadding": 7.3,
            "symbolStrokeColor": "#1a1a1a", "symbolStrokeWidth": 1,
            "symbolFillColor": {"expr": "datum.value === 'Central Yakutia' ? '#14a853' : datum.value === 'Northen Yakutia' ? '#1e7b46' : datum.value === 'Viluy' ? '#8dc63f' : '#1a1a1a'"}
          }
        },
        "fill": {"field": "period", "type": "nominal",
          "scale": {"domain": ["Early Neolithic", "Late Neolithic", "Early Bronze Age"], "range": ["#a1158e", "#f5a236", "#e8112d"]},
          "legend": {
            "title": null, "orient": "none", "legendX": 218, "legendY": 146, "padding": 0,
            "symbolSize": 4, "labelOffset": 0, "rowPadding": -5.5,
            "symbolType": "M0,-13.25L0,13.25", "symbolStrokeColor": "#333", "symbolStrokeWidth": 1.2,
            "labelColor": {"expr": "datum.value === 'Early Neolithic' ? '#a3168f' : datum.value === 'Late Neolithic' ? '#f4a13a' : '#e0142c'"}
          }
        }
      }
    },
    {"data": {"name": "human"}, "transform": [{"filter": "datum.region === 'Angara Valley'"}],
      "mark": {"type": "point", "filled": true, "size": 150, "opacity": 1, "stroke": "#3d0a12", "strokeWidth": 0.8},
      "encoding": {"shape": {"field": "region", "type": "nominal"}, "fill": {"field": "period", "type": "nominal"}}},
    {"data": {"name": "human"}, "transform": [{"filter": "datum.region === 'Upper Lena'"}],
      "mark": {"type": "point", "filled": true, "size": 200, "opacity": 1, "stroke": "#3d0a12", "strokeWidth": 0.8},
      "encoding": {"shape": {"field": "region", "type": "nominal"}, "fill": {"field": "period", "type": "nominal"}}},
    {"data": {"name": "human"}, "transform": [{"filter": "datum.region === 'Northen Yakutia'"}],
      "mark": {"type": "point", "filled": true, "size": 280, "opacity": 1, "fill": "#1e7b46", "stroke": "#123a20", "strokeWidth": 0.8},
      "encoding": {"shape": {"field": "region", "type": "nominal"}}},
    {"data": {"name": "human"}, "transform": [{"filter": "datum.region === 'Central Yakutia'"}],
      "mark": {"type": "point", "filled": true, "size": 340, "opacity": 1, "fill": "#14a853", "strokeWidth": 1},
      "encoding": {
        "shape": {"field": "region", "type": "nominal"},
        "stroke": {"field": "period", "type": "nominal",
          "scale": {"domain": ["Historical periods"], "range": ["#1c3320"]},
          "legend": {
            "title": null, "orient": "none", "legendX": 218, "legendY": 86, "padding": 0,
            "symbolSize": 4, "labelOffset": 0, "labelColor": "#5bb94c",
            "symbolType": "M0,-34L0,34", "symbolStrokeWidth": 1.2
          }
        }
      }
    },
    {"data": {"name": "human"}, "transform": [{"filter": "datum.region === 'Viluy'"}],
      "mark": {"type": "point", "filled": true, "size": 500, "opacity": 1, "fill": "#8dc63f", "stroke": "#2c3f14", "strokeWidth": 1},
      "encoding": {"shape": {"field": "region", "type": "nominal"}}},
    {"data": {"name": "fauna"}, "transform": [{"filter": "datum.taxon === 'River fish'"}],
      "mark": {"type": "point", "filled": false, "shape": "M-1,-1L1,1M-1,1L1,-1", "size": 484, "stroke": "#3b3591", "strokeWidth": 3.5, "opacity": 1}},
    {"data": {"name": "fauna"}, "transform": [{"filter": "datum.taxon === 'Equid'"}],
      "mark": {"type": "point", "filled": false, "shape": "M-1,0L1,0M0,-1L0,1", "size": 1089, "stroke": "#8a6a14", "strokeWidth": 4.5, "opacity": 1}},
    {"data": {"name": "fauna"}, "transform": [{"filter": "datum.taxon === 'Canid'"}],
      "mark": {"type": "point", "filled": false, "shape": "M-1,0L1,0M0,-1L0,1M-0.71,-0.71L0.71,0.71M-0.71,0.71L0.71,-0.71", "size": 900, "stroke": "#b01420", "strokeWidth": 4, "opacity": 1}},
    {"data": {"name": "fauna"}, "transform": [{"filter": "datum.taxon === 'Bovid'"}],
      "mark": {"type": "point", "filled": false, "shape": "M-1,0L1,0M0,-1L0,1M-0.71,-0.71L0.71,0.71M-0.71,0.71L0.71,-0.71", "size": 900, "stroke": "#e2712e", "strokeWidth": 4, "opacity": 1}},
    {"data": {"name": "fauna"}, "transform": [{"filter": "datum.taxon === 'Leporid'"}],
      "mark": {"type": "point", "filled": true, "shape": "circle", "size": 900, "fill": "#b443a8", "strokeWidth": 0, "opacity": 1}},
    {"data": {"name": "labels"},
      "mark": {"type": "text", "font": "Liberation Sans", "fontSize": 21, "fontStyle": "italic", "color": "#222", "align": "center", "baseline": "middle", "lineBreak": "\n", "lineHeight": 22},
      "encoding": {"text": {"field": "label", "type": "nominal"}}}
  ]
}
